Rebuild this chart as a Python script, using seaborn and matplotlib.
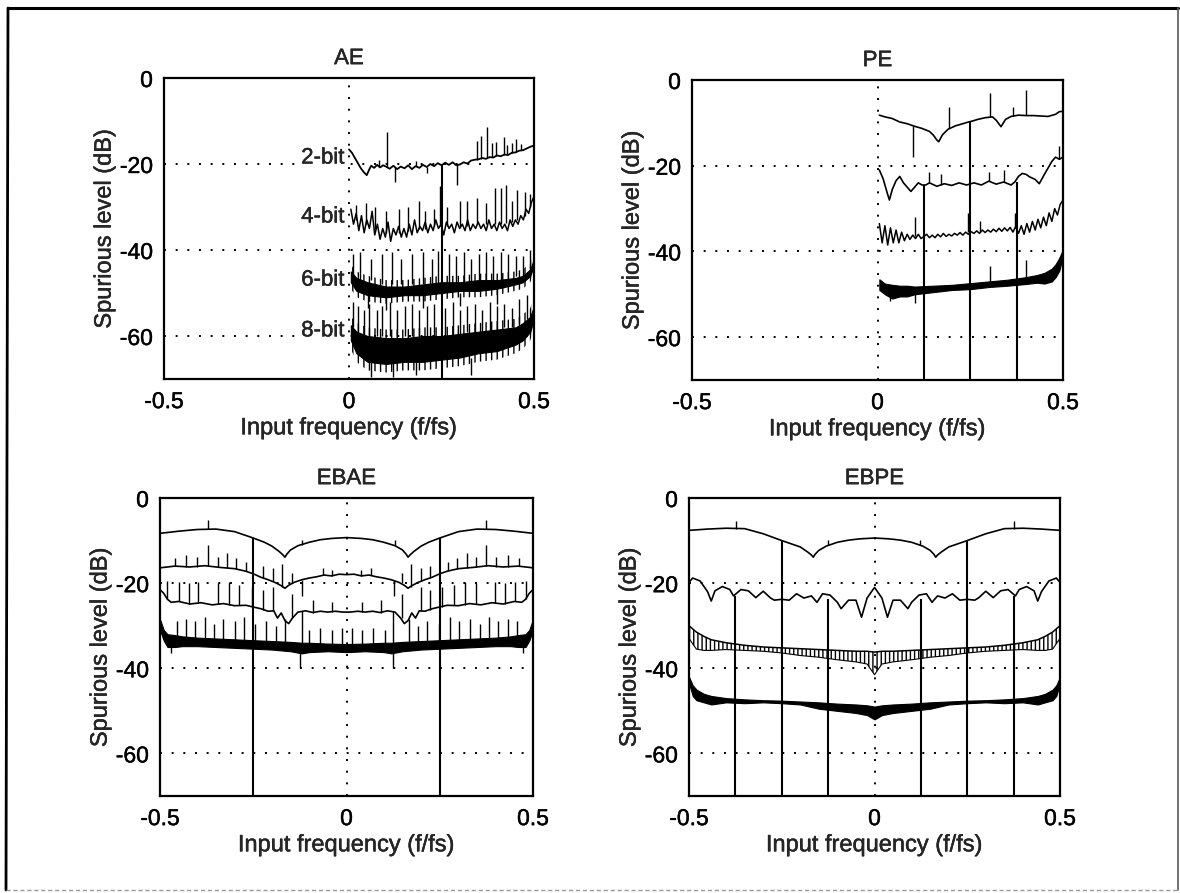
import numpy as np
import pandas as pd
import matplotlib
matplotlib.use("Agg")
import matplotlib.pyplot as plt
import matplotlib.patheffects as pe
import seaborn as sns

sns.set_theme(style="white")
plt.rcParams["font.family"] = ["Liberation Sans", "DejaVu Sans"]
plt.rcParams["axes.unicode_minus"] = False
plt.rcParams["hatch.linewidth"] = 1.0

NULL_DB = -100.0  # spur-free frequency: level below the plotted range

# ---------------- AE ----------------
ae2_x = [0.000, 0.008, 0.016, 0.024, 0.032, 0.040, 0.048, 0.054, 0.060, 0.068,
         0.076, 0.084, 0.092, 0.100, 0.110, 0.120, 0.130, 0.140, 0.150, 0.160,
         0.170, 0.180, 0.190, 0.200, 0.210, 0.220, 0.230, 0.240, 0.250, 0.260,
         0.270, 0.280, 0.290, 0.300, 0.310, 0.320, 0.330, 0.340, 0.350, 0.360,
         0.370, 0.380, 0.390, 0.400, 0.410, 0.420, 0.430, 0.440, 0.450, 0.460,
         0.470, 0.480, 0.490, 0.500]
ae2_y = [-16.6, -17.4, -18.6, -19.8, -21.0, -21.9, -22.6, -21.4, -20.4, -20.9,
         -20.2, -20.8, -20.3, -20.6, -21.1, -20.4, -21.2, -20.6, -21.0, -20.3,
         -21.2, -20.5, -20.9, -20.2, -20.7, -20.0, -20.5, -19.8, -20.3, -19.7,
         -20.2, -19.6, -20.3, -20.1, -19.6, -19.9, -19.2, -19.0, -18.9, -18.6,
         -18.8, -18.4, -18.5, -18.0, -18.2, -17.8, -17.9, -17.4, -17.3, -16.9,
         -16.8, -16.4, -16.0, -15.7]
ae2_spikes = [(0.080, -20.4, -19.0), (0.103, -20.6, -12.6), (0.124, -20.6, -24.3),
              (0.180, -20.5, -19.2), (0.210, -20.6, -22.0), (0.293, -20.0, -24.8),
              (0.345, -19.0, -14.6), (0.358, -18.8, -13.6), (0.372, -18.6, -11.5),
              (0.386, -18.4, -15.2), (0.398, -18.1, -14.8), (0.418, -17.9, -13.8),
              (0.428, -17.8, -15.6), (0.440, -17.5, -15.0), (0.452, -17.2, -14.3),
              (0.466, -16.8, -15.4)]

ae4_y = [-30.5, -34.0, -31.5, -35.5, -32.0, -36.0, -33.0, -35.0, -31.0, -36.5,
         -34.0, -37.5, -35.0, -37.0, -33.5, -38.0, -35.0, -36.5, -34.5, -37.0,
         -35.0, -37.0, -34.0, -36.5, -33.0, -36.0, -34.5, -35.5, -33.5, -36.0,
         -34.0, -35.5, -33.0, -35.0, -34.0, -36.5, -33.5, -35.0, -34.0, -36.0,
         -33.5, -35.0, -34.0, -35.5, -33.0, -35.5, -34.0, -35.0, -33.5, -35.0,
         -34.0, -35.5, -33.0, -35.0, -34.0, -35.5, -33.5, -35.0, -34.0, -35.5,
         -33.0, -34.5, -33.0, -34.0, -32.0, -33.0, -30.5, -31.5, -29.0, -27.5]
ae4_spikes = [(0.020, -33.0, -29.5), (0.045, -34.0, -29.0), (0.070, -35.0, -30.0),
              (0.100, -36.0, -31.0), (0.135, -36.0, -30.5), (0.160, -35.5, -30.0),
              (0.190, -35.0, -28.5), (0.205, -35.0, -31.0), (0.230, -34.5, -30.5),
              (0.245, -34.5, -25.0), (0.265, -34.5, -30.0), (0.300, -34.5, -28.5),
              (0.320, -34.5, -28.5), (0.345, -34.0, -28.0), (0.370, -34.0, -29.0),
              (0.395, -34.0, -25.5), (0.410, -34.0, -25.5), (0.425, -33.8, -24.8),
              (0.440, -33.5, -28.5), (0.455, -33.0, -26.0), (0.475, -32.0, -26.5),
              (0.490, -30.0, -27.0)]

ae_band_x = [0.005, 0.02, 0.05, 0.10, 0.15, 0.20, 0.25, 0.30, 0.35, 0.40, 0.45, 0.47, 0.49, 0.50]
ae6_hi = [-43.5, -45.0, -46.0, -47.0, -47.0, -46.5, -46.0, -46.0, -45.5, -45.5, -45.0, -44.5, -43.0, -40.5]
ae6_lo = [-49.0, -51.0, -52.0, -52.5, -52.0, -52.0, -51.5, -51.0, -51.0, -50.5, -49.5, -49.0, -47.5, -45.0]
ae6_core_hi = [-45.0, -46.5, -47.5, -48.5, -48.5, -48.0, -47.5, -47.5, -47.0, -47.0, -46.5, -46.0, -44.5, -42.0]
ae6_core_lo = [-47.5, -49.5, -50.5, -51.0, -50.5, -50.5, -50.0, -49.5, -49.5, -49.0, -48.0, -47.5, -46.0, -43.5]
ae6_spikes = [(0.010, -46, -41.0), (0.030, -47, -40.5), (0.060, -47, -42.0), (0.090, -48, -41.0),
              (0.115, -48, -40.5), (0.140, -48, -42.0), (0.170, -48, -41.0), (0.200, -48, -40.5),
              (0.225, -48, -42.0), (0.240, -48, -40.3), (0.270, -48, -41.0), (0.290, -48, -41.5),
              (0.310, -48, -40.5), (0.330, -48, -42.0), (0.350, -47, -41.0), (0.370, -47, -40.5),
              (0.390, -47, -41.5), (0.410, -47, -40.5), (0.430, -47, -41.0), (0.450, -46, -41.5),
              (0.470, -46, -41.5), (0.490, -45, -40.0),
              (0.050, -50, -53.5), (0.100, -50, -54.0), (0.200, -50, -53.5), (0.300, -50, -53.0),
              (0.400, -49, -52.5)]

ae8_hi = [-55.5, -57.0, -58.0, -58.5, -58.5, -58.0, -58.0, -57.5, -57.0, -56.5, -56.0, -55.0, -53.5, -51.0]
ae8_lo = [-63.0, -66.0, -68.0, -68.5, -68.0, -68.0, -67.5, -67.0, -66.0, -65.5, -64.0, -63.0, -61.0, -58.0]
ae8_core_hi = [-57.5, -59.0, -60.0, -60.5, -60.5, -60.0, -60.0, -59.5, -59.0, -58.5, -58.0, -57.0, -55.5, -53.0]
ae8_core_lo = [-61.0, -64.0, -66.0, -66.5, -66.0, -66.0, -65.5, -65.0, -64.0, -63.5, -62.0, -61.0, -59.0, -56.0]
ae8_spikes = [(0.010, -58, -52.0), (0.025, -59, -53.0), (0.040, -60, -54.0), (0.055, -60, -52.5),
              (0.075, -60, -54.0), (0.090, -60, -53.0), (0.110, -60, -52.0), (0.130, -60, -54.0),
              (0.150, -60, -53.0), (0.170, -60, -52.5), (0.190, -60, -54.0), (0.210, -60, -53.0),
              (0.230, -60, -52.5), (0.260, -60, -53.5), (0.280, -60, -52.0), (0.300, -60, -54.0),
              (0.320, -59, -53.0), (0.340, -59, -52.5), (0.360, -59, -54.0), (0.380, -59, -52.0),
              (0.400, -59, -53.0), (0.420, -58, -52.5), (0.440, -58, -53.5), (0.460, -57, -51.5),
              (0.480, -56, -50.5),
              (0.060, -66, -69.5), (0.120, -66, -69.5), (0.180, -66, -69.0), (0.330, -65, -69.0)]
ae_nulls = [(0.25, -20.2)]
ae_labels = ["2-bit", "4-bit", "6-bit", "8-bit"]
ae_label_y = [-18.6, -32.3, -47.0, -58.8]

# ---------------- PE ----------------
pe1_x = [0.005, 0.02, 0.04, 0.06, 0.08, 0.10, 0.12, 0.14, 0.150, 0.160, 0.165, 0.175,
         0.19, 0.21, 0.23, 0.245, 0.255, 0.27, 0.29, 0.31, 0.32, 0.333, 0.345, 0.36,
         0.38, 0.40, 0.42, 0.44, 0.46, 0.48, 0.49, 0.50]
pe1_y = [-8.2, -8.6, -9.0, -9.8, -10.2, -10.8, -11.3, -12.0, -12.8, -14.0, -14.4, -12.8,
         -11.5, -10.7, -10.2, -9.8, -9.6, -9.2, -8.8, -8.6, -9.4, -10.9, -9.2, -8.5,
         -8.2, -8.3, -8.3, -8.4, -8.5, -8.0, -7.4, -7.3]
pe1_spikes = [(0.097, -10.7, -17.9), (0.194, -11.3, -6.2), (0.302, -8.7, -3.1),
              (0.364, -8.4, -6.2), (0.400, -8.2, -2.3)]

pe2_x = [0.005, 0.015, 0.025, 0.032, 0.04, 0.05, 0.06, 0.07, 0.08, 0.09, 0.10, 0.11,
         0.12, 0.13, 0.14, 0.16, 0.18, 0.20, 0.22, 0.24, 0.26, 0.28, 0.30, 0.32,
         0.34, 0.36, 0.37, 0.38, 0.39, 0.40, 0.41, 0.425, 0.436, 0.45, 0.46, 0.47,
         0.48, 0.49, 0.50]
pe2_y = [-21.0, -23.0, -26.0, -28.0, -25.5, -23.5, -22.5, -24.0, -25.0, -26.0, -25.0, -24.0,
         -24.5, -24.5, -24.0, -24.8, -24.2, -24.6, -24.0, -24.5, -24.0, -24.5, -23.6, -24.3,
         -23.8, -24.5, -23.8, -22.5, -21.8, -22.0, -22.6, -23.2, -24.2, -22.0, -20.5, -19.0,
         -18.0, -18.5, -18.0]
pe2_spikes = [(0.140, -24.0, -21.5), (0.170, -24.5, -22.0), (0.300, -23.6, -21.5),
              (0.340, -23.8, -21.0), (0.490, -18.5, -15.5)]

pe3_y = [-33.5, -38.0, -34.0, -38.5, -34.5, -38.0, -35.0, -38.0, -35.5, -37.5,
         -36.0, -37.2, -36.2, -37.0, -36.0, -37.0, -36.5, -36.0, -36.8, -36.2,
         -36.8, -36.0, -36.6, -35.8, -36.5, -36.0, -36.4, -35.8, -36.2, -35.6,
         -36.2, -35.5, -36.0, -35.4, -35.8, -35.2, -35.8, -35.0, -35.6, -35.0,
         -35.5, -34.8, -35.4, -34.6, -35.3, -34.5, -35.2, -34.4, -35.5, -34.2,
         -35.8, -34.0, -36.0, -33.5, -35.5, -33.0, -35.0, -32.5, -34.5, -32.0,
         -34.0, -31.0, -33.0, -30.0, -31.5, -29.0, -28.0]
pe3_spikes = [(0.100, -36.5, -31.9), (0.245, -35.5, -31.0), (0.275, -35.5, -33.0),
              (0.370, -34.5, -31.0)]

pe4_x = [0.005, 0.02, 0.04, 0.06, 0.08, 0.10, 0.15, 0.20, 0.25, 0.30, 0.35, 0.40,
         0.43, 0.45, 0.47, 0.48, 0.49, 0.50]
pe4_hi = [-46.5, -47.5, -47.8, -48.0, -48.0, -48.2, -48.0, -47.8, -47.4, -47.0, -46.6, -46.0,
          -45.5, -45.0, -44.0, -43.0, -41.5, -39.5]
pe4_lo = [-49.0, -50.0, -51.0, -50.5, -50.5, -50.0, -49.5, -49.0, -48.8, -48.3, -48.0, -47.6,
          -47.3, -47.5, -47.0, -46.0, -44.5, -41.0]
pe4_spikes = [(0.035, -50.0, -51.5), (0.100, -49.5, -52.0), (0.302, -47.5, -43.5),
              (0.400, -47.0, -42.0)]
pe_nulls = [(0.125, -24.6), (0.25, -9.8), (0.375, -23.8)]

# ---------------- EBAE ----------------
eb1_x = [-0.50, -0.45, -0.40, -0.35, -0.30, -0.25, -0.22, -0.20, -0.18, -0.17, -0.165, -0.16,
         -0.15, -0.13, -0.10, -0.07, -0.04, 0.00, 0.04, 0.07, 0.10, 0.13, 0.15, 0.16,
         0.165, 0.17, 0.18, 0.20, 0.22, 0.25, 0.30, 0.35, 0.40, 0.45, 0.50]
ebae1_y = [-8.3, -7.8, -7.4, -7.3, -7.9, -9.4, -10.4, -11.3, -12.6, -13.4, -13.9, -13.2,
           -12.2, -11.2, -10.4, -9.8, -9.5, -9.3, -9.5, -9.8, -10.4, -11.2, -12.2, -13.2,
           -13.9, -13.4, -12.6, -11.3, -10.4, -9.4, -7.9, -7.3, -7.4, -7.8, -8.3]
ebae1_spikes = [(-0.372, -7.3, -5.2), (-0.120, -11.0, -9.8), (0.130, -11.0, -9.8), (0.374, -7.3, -5.2)]

ebae2_x = [-0.50, -0.46, -0.42, -0.38, -0.34, -0.30, -0.27, -0.25, -0.23, -0.21, -0.19, -0.175,
           -0.165, -0.155, -0.14, -0.12, -0.10, -0.08, -0.06, -0.04, -0.02, 0.00, 0.02, 0.04,
           0.06, 0.08, 0.10, 0.12, 0.14, 0.155, 0.165, 0.175, 0.19, 0.21, 0.23, 0.25,
           0.27, 0.30, 0.34, 0.38, 0.42, 0.46, 0.50]
ebae2_y = [-16.4, -16.0, -16.2, -15.9, -16.3, -16.6, -17.2, -17.8, -18.6, -19.2, -19.9, -20.6,
           -21.2, -20.5, -19.8, -19.2, -18.8, -18.5, -18.1, -18.3, -17.9, -18.0, -17.9, -18.3,
           -18.1, -18.5, -18.8, -19.2, -19.8, -20.5, -21.2, -20.6, -19.9, -19.2, -18.6, -17.8,
           -17.2, -16.6, -16.3, -15.9, -16.2, -16.0, -16.4]
ebae2_spikes = [(-0.460, -16.0, -14.0), (-0.430, -16.1, -13.5), (-0.400, -16.1, -13.8),
                (-0.372, -16.0, -11.1), (-0.345, -16.3, -13.8), (-0.320, -16.5, -13.0),
                (-0.295, -16.7, -14.0), (-0.270, -17.2, -15.0), (-0.223, -18.8, -16.0),
                (-0.197, -19.6, -16.5), (-0.172, -20.8, -15.5), (-0.146, -20.0, -17.5),
                (-0.120, -19.2, -23.0), (-0.064, -18.1, -16.5), (-0.038, -18.3, -16.8),
                (0.040, -18.3, -16.8), (0.066, -18.1, -16.5), (0.128, -19.2, -23.0),
                (0.148, -20.0, -17.5), (0.174, -20.8, -15.5), (0.199, -19.6, -16.5),
                (0.225, -18.8, -16.0), (0.272, -17.2, -15.0), (0.297, -16.7, -14.0),
                (0.322, -16.5, -13.0), (0.347, -16.3, -13.8), (0.374, -16.0, -11.1),
                (0.402, -16.1, -13.8), (0.432, -16.1, -13.5), (0.462, -16.0, -14.0)]

ebae3_x = [-0.50, -0.49, -0.48, -0.47, -0.45, -0.42, -0.39, -0.36, -0.33, -0.30, -0.27, -0.25,
           -0.23, -0.21, -0.195, -0.185, -0.175, -0.165, -0.155, -0.145, -0.13, -0.11, -0.09, -0.07,
           -0.05, -0.03, -0.01, 0.01, 0.03, 0.05, 0.07, 0.09, 0.11, 0.13, 0.145, 0.155,
           0.165, 0.175, 0.185, 0.195, 0.21, 0.23, 0.25, 0.27, 0.30, 0.33, 0.36, 0.39,
           0.42, 0.45, 0.47, 0.48, 0.49, 0.50]
ebae3_y = [-21.5, -22.4, -23.8, -24.5, -24.3, -24.9, -24.6, -25.1, -24.8, -25.3, -25.2, -25.6,
           -26.0, -26.6, -26.5, -28.2, -27.0, -28.8, -29.5, -28.2, -26.8, -26.5, -26.9, -26.6,
           -26.8, -26.6, -26.8, -26.8, -26.6, -26.8, -26.6, -26.9, -26.5, -26.8, -28.2, -29.5,
           -28.8, -27.0, -28.2, -26.5, -26.6, -26.0, -25.6, -25.2, -25.3, -24.8, -25.1, -24.6,
           -24.9, -24.3, -24.5, -23.8, -22.4, -21.5]
ebae3_spikes = [(-0.480, -23.8, -19.5), (-0.450, -24.3, -19.8), (-0.423, -24.9, -20.0),
                (-0.397, -24.6, -19.8), (-0.345, -25.0, -20.0), (-0.315, -25.2, -19.7),
                (-0.287, -25.2, -20.5), (-0.254, -25.6, -21.0), (-0.223, -26.2, -21.5),
                (-0.197, -26.5, -21.0), (-0.146, -28.2, -22.5), (-0.120, -26.6, -34.6),
                (-0.090, -26.9, -24.0), (-0.040, -26.7, -24.5), (0.042, -26.7, -24.5),
                (0.092, -26.9, -24.0), (0.126, -26.6, -34.6), (0.148, -28.2, -22.5),
                (0.199, -26.5, -21.0), (0.225, -26.2, -21.5), (0.256, -25.6, -21.0),
                (0.289, -25.2, -20.5), (0.317, -25.2, -19.7), (0.347, -25.0, -20.0),
                (0.399, -24.6, -19.8), (0.425, -24.9, -20.0), (0.452, -24.3, -19.8),
                (0.482, -23.8, -19.5)]

ebae4_x = [-0.50, -0.49, -0.48, -0.46, -0.44, -0.40, -0.35, -0.30, -0.25, -0.20, -0.15, -0.12,
           -0.10, -0.05, 0.00, 0.05, 0.10, 0.12, 0.15, 0.20, 0.25, 0.30, 0.35, 0.40,
           0.44, 0.46, 0.48, 0.49, 0.50]
ebae4_hi = [-28.5, -31.0, -32.0, -32.2, -32.5, -32.8, -33.0, -33.2, -33.4, -33.6, -33.8, -34.0,
            -34.0, -34.2, -34.3, -34.2, -34.0, -34.0, -33.8, -33.6, -33.4, -33.2, -33.0, -32.8,
            -32.5, -32.2, -32.0, -31.0, -28.5]
ebae4_lo = [-31.0, -33.5, -35.0, -35.0, -34.8, -34.8, -35.0, -35.2, -35.4, -35.6, -36.0, -36.5,
            -36.2, -36.0, -36.2, -36.0, -36.2, -36.5, -36.0, -35.6, -35.4, -35.2, -35.0, -34.8,
            -34.8, -35.0, -35.0, -33.5, -31.0]
ebae4_spikes = [(-0.470, -33.5, -36.5), (-0.455, -33.5, -29.0), (-0.430, -33.5, -28.5),
                (-0.405, -33.8, -29.0), (-0.380, -34.0, -28.0), (-0.355, -34.0, -29.5),
                (-0.330, -34.0, -28.5), (-0.300, -34.2, -29.0), (-0.275, -34.3, -28.0),
                (-0.245, -34.4, -29.5), (-0.215, -34.6, -29.0), (-0.190, -34.8, -30.0),
                (-0.165, -35.0, -28.5), (-0.126, -35.2, -40.0), (-0.100, -35.2, -31.0),
                (-0.070, -35.2, -30.5), (-0.040, -35.3, -31.0), (-0.012, -35.3, -30.5),
                (0.014, -35.3, -30.5), (0.042, -35.3, -31.0), (0.072, -35.2, -30.5),
                (0.102, -35.2, -31.0), (0.126, -35.2, -40.0), (0.167, -35.0, -28.5),
                (0.192, -34.8, -30.0), (0.217, -34.6, -29.0), (0.247, -34.4, -29.5),
                (0.277, -34.3, -28.0), (0.302, -34.2, -29.0), (0.332, -34.0, -28.5),
                (0.357, -34.0, -29.5), (0.382, -34.0, -28.0), (0.407, -33.8, -29.0),
                (0.432, -33.5, -28.5), (0.457, -33.5, -29.0), (0.472, -33.5, -36.5)]
ebae_nulls = [(-0.25, -9.4), (0.25, -9.4)]

# ---------------- EBPE ----------------
ebpe1_y = [-7.6, -7.3, -7.1, -7.2, -8.4, -10.0, -10.9, -11.5, -12.7, -13.4, -13.9, -13.2,
           -12.3, -11.3, -10.4, -9.9, -9.6, -9.4, -9.6, -9.9, -10.4, -11.3, -12.3, -13.2,
           -13.9, -13.4, -12.7, -11.5, -10.9, -10.0, -8.4, -7.2, -7.1, -7.3, -7.6]
ebpe1_spikes = [(-0.373, -7.2, -5.3), (-0.124, -11.0, -9.8), (0.122, -11.0, -9.8), (0.376, -7.2, -5.5)]

ebpe2_x = [-0.50, -0.49, -0.47, -0.45, -0.44, -0.43, -0.41, -0.39, -0.38, -0.36, -0.34, -0.32,
           -0.30, -0.28, -0.27, -0.25, -0.23, -0.21, -0.19, -0.17, -0.155, -0.14, -0.12, -0.10,
           -0.09, -0.07, -0.05, -0.035, -0.02, 0.00, 0.02, 0.035, 0.05, 0.07, 0.09, 0.10,
           0.12, 0.14, 0.155, 0.17, 0.19, 0.21, 0.23, 0.25, 0.27, 0.28, 0.30, 0.32,
           0.34, 0.36, 0.38, 0.39, 0.41, 0.43, 0.44, 0.45, 0.47, 0.49, 0.50]
ebpe2_y = [-19.8, -18.8, -19.5, -22.0, -24.2, -21.8, -20.8, -21.5, -23.0, -21.5, -21.8, -23.4,
           -21.9, -23.5, -24.0, -23.8, -24.0, -22.5, -23.5, -23.0, -24.5, -22.5, -22.8, -24.5,
           -26.0, -24.0, -24.0, -28.0, -23.5, -21.0, -23.5, -28.0, -24.0, -24.0, -26.0, -24.5,
           -22.8, -22.5, -24.5, -23.0, -23.5, -22.5, -24.0, -23.8, -24.0, -23.5, -21.9, -23.4,
           -21.8, -21.5, -23.0, -21.5, -20.8, -21.8, -24.2, -22.0, -19.5, -18.8, -19.8]

ebpe3_x = [-0.50, -0.48, -0.46, -0.44, -0.40, -0.35, -0.30, -0.25, -0.20, -0.15, -0.10, -0.05,
           -0.02, 0.00, 0.02, 0.05, 0.10, 0.15, 0.20, 0.25, 0.30, 0.35, 0.40, 0.44,
           0.46, 0.48, 0.50]
ebpe3_hi = [-30.0, -31.5, -32.5, -33.3, -34.0, -34.6, -35.0, -35.2, -35.4, -35.6, -35.8, -36.0,
            -36.0, -36.2, -36.0, -36.0, -35.8, -35.6, -35.4, -35.2, -35.0, -34.6, -34.0, -33.3,
            -32.5, -31.5, -30.0]
ebpe3_lo = [-33.0, -35.5, -35.8, -35.8, -35.6, -35.8, -36.0, -36.4, -37.0, -37.4, -38.0, -38.5,
            -39.0, -41.5, -39.0, -38.5, -38.0, -37.4, -37.0, -36.4, -36.0, -35.8, -35.6, -35.8,
            -35.8, -35.5, -33.0]

ebpe4_x = [-0.50, -0.49, -0.48, -0.46, -0.44, -0.40, -0.35, -0.30, -0.25, -0.20, -0.15, -0.10,
           -0.05, -0.02, 0.00, 0.02, 0.05, 0.10, 0.15, 0.20, 0.25, 0.30, 0.35, 0.40,
           0.44, 0.46, 0.48, 0.49, 0.50]
ebpe4_hi = [-42.0, -44.0, -45.0, -46.0, -46.5, -47.0, -47.3, -47.5, -47.6, -47.8, -48.0, -48.3,
            -48.5, -48.7, -49.0, -48.7, -48.5, -48.3, -48.0, -47.8, -47.6, -47.5, -47.3, -47.0,
            -46.5, -46.0, -45.0, -44.0, -42.0]
ebpe4_lo = [-43.5, -46.5, -47.5, -48.0, -48.5, -48.0, -48.2, -48.0, -48.2, -48.5, -49.5, -50.0,
            -50.5, -51.0, -52.0, -51.0, -50.5, -50.0, -49.5, -48.5, -48.2, -48.0, -48.2, -48.0,
            -48.5, -48.0, -47.5, -46.5, -43.5]
ebpe_nulls = [(-0.375, -23.0), (-0.25, -10.0), (-0.125, -23.8), (0.125, -23.8), (0.25, -10.0), (0.375, -23.0)]

# ---------------- layout ----------------
W, H = 1180, 893
fig = plt.figure(figsize=(W / 100, H / 100), dpi=100)
INK = [pe.withStroke(linewidth=0.3, foreground="black")]


def px_axes(left, top, right, bottom):
    return fig.add_axes([left / W, 1 - bottom / H, (right - left) / W, (bottom - top) / H])


ax_ae = px_axes(164, 78, 534, 379)
ax_pe = px_axes(692, 80, 1063, 380)
ax_ebae = px_axes(160, 498, 533, 796)
ax_ebpe = px_axes(689, 498, 1060, 796)

LINE_KW = dict(color="black", estimator=None, sort=False, legend=False)


def curve(ax, x, y, lw=1.2):
    df = pd.DataFrame({"f": x, "level": y})
    sns.lineplot(data=df, x="f", y="level", ax=ax, linewidth=lw, **LINE_KW)


def spikes(ax, items, lw=1.0):
    arr = np.array(items)
    ax.vlines(arr[:, 0], arr[:, 1], arr[:, 2], color="black", linewidth=lw)


def band(ax, x, lo, hi, hatch=None):
    if hatch is None:
        ax.fill_between(x, lo, hi, color="black", linewidth=0.8)
    else:
        ax.fill_between(x, lo, hi, facecolor="none", edgecolor="black", hatch=hatch, linewidth=0.0)
        curve(ax, x, hi, lw=1.1)
        curve(ax, x, lo, lw=0.8)


def noisy_band(ax, x, lo, hi, core_lo, core_hi):
    # ragged outer envelope drawn as fine vertical strokes, solid dense core
    ax.fill_between(x, lo, hi, facecolor="none", edgecolor="black", hatch="|||", linewidth=0.0)
    ax.fill_between(x, core_lo, core_hi, color="black", linewidth=0.8)


def nulls(ax, items):
    for fx, top in items:
        ax.vlines(fx, NULL_DB, top, color="black", linewidth=1.5)


def style(ax, title):
    ax.set_xlim(-0.5, 0.5)
    ax.set_ylim(-70, 0)
    for yv in (-20, -40, -60):
        ax.axhline(yv, color="black", linestyle=(0, (1, 5)), linewidth=1.4, zorder=0.5)
    ax.axvline(0, color="black", linestyle=(0, (1, 5)), linewidth=1.4, zorder=0.5)
    ax.set_xticks([-0.5, 0, 0.5])
    ax.set_xticklabels(["-0.5", "0", "0.5"])
    ax.set_yticks([-60, -40, -20, 0])
    ax.set_yticklabels(["-60", "-40", "-20", "0"])
    ax.tick_params(direction="in", length=5, width=1.0, labelsize=16.5, pad=8, colors="black")
    for s in ax.spines.values():
        s.set_visible(True)
        s.set_color("black")
        s.set_linewidth(1.6)
    ax.set_facecolor("white")
    t = ax.set_title(title, fontsize=16, pad=10)
    xl = ax.set_xlabel("Input frequency (f/fs)", fontsize=17, labelpad=3)
    yl = ax.set_ylabel("Spurious level (dB)", fontsize=17, labelpad=3)
    for txt in [t, xl, yl] + ax.get_xticklabels() + ax.get_yticklabels():
        txt.set_path_effects(INK)


# AE
ae4_x = np.linspace(0.005, 0.5, len(ae4_y))
noisy_band(ax_ae, ae_band_x, ae8_lo, ae8_hi, ae8_core_lo, ae8_core_hi)
spikes(ax_ae, ae8_spikes)
noisy_band(ax_ae, ae_band_x, ae6_lo, ae6_hi, ae6_core_lo, ae6_core_hi)
spikes(ax_ae, ae6_spikes)
curve(ax_ae, ae4_x, ae4_y, lw=1.1)
spikes(ax_ae, ae4_spikes)
curve(ax_ae, ae2_x, ae2_y, lw=1.3)
spikes(ax_ae, ae2_spikes)
nulls(ax_ae, ae_nulls)
for lab, ly in zip(ae_labels, ae_label_y):
    ax_ae.text(-0.012, ly, lab, ha="right", va="center", fontsize=16,
               bbox=dict(facecolor="white", edgecolor="none", pad=0.5),
               path_effects=INK)
style(ax_ae, "AE")

# PE
pe3_x = np.linspace(0.005, 0.5, len(pe3_y))
band(ax_pe, pe4_x, pe4_lo, pe4_hi)
spikes(ax_pe, pe4_spikes)
curve(ax_pe, pe3_x, pe3_y, lw=1.1)
spikes(ax_pe, pe3_spikes)
curve(ax_pe, pe2_x, pe2_y)
spikes(ax_pe, pe2_spikes)
curve(ax_pe, pe1_x, pe1_y)
spikes(ax_pe, pe1_spikes)
nulls(ax_pe, pe_nulls)
style(ax_pe, "PE")

# EBAE
band(ax_ebae, ebae4_x, ebae4_lo, ebae4_hi)
spikes(ax_ebae, ebae4_spikes)
curve(ax_ebae, ebae3_x, ebae3_y)
spikes(ax_ebae, ebae3_spikes)
curve(ax_ebae, ebae2_x, ebae2_y)
spikes(ax_ebae, ebae2_spikes)
curve(ax_ebae, eb1_x, ebae1_y)
spikes(ax_ebae, ebae1_spikes)
nulls(ax_ebae, ebae_nulls)
style(ax_ebae, "EBAE")

# EBPE
band(ax_ebpe, ebpe4_x, ebpe4_lo, ebpe4_hi)
band(ax_ebpe, ebpe3_x, ebpe3_lo, ebpe3_hi, hatch="||||")
curve(ax_ebpe, ebpe2_x, ebpe2_y)
curve(ax_ebpe, eb1_x, ebpe1_y)
spikes(ax_ebpe, ebpe1_spikes)
nulls(ax_ebpe, ebpe_nulls)
style(ax_ebpe, "EBPE")

# outer frame of the figure
fig.add_artist(plt.Line2D([8 / W, 1178 / W], [1 - 8 / H, 1 - 8 / H], color="black", linewidth=2.2))
fig.add_artist(plt.Line2D([8 / W, 6 / W], [1 - 8 / H, 1 - 890 / H], color="black", linewidth=2.0))
fig.add_artist(plt.Line2D([1178 / W, 1178 / W], [1 - 8 / H, 1 - 890 / H], color="0.35", linewidth=1.2))
fig.add_artist(plt.Line2D([6 / W, 1178 / W], [1 - 890 / H, 1 - 890 / H], color="0.6",
                          linewidth=1.0, linestyle=(0, (3, 2))))

fig.savefig("out.png", dpi=100, facecolor="white")
